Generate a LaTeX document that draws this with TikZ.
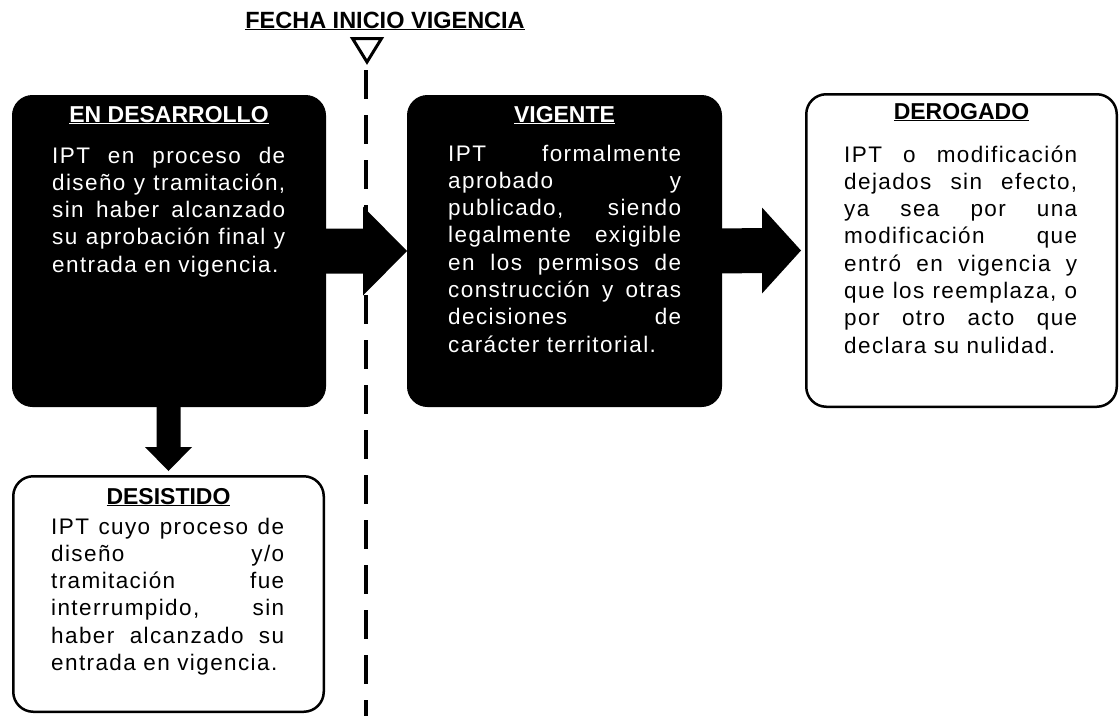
\documentclass[tikz,border=0pt]{standalone}
\usepackage{fontspec}
\setmainfont{Liberation Sans}
\usetikzlibrary{calc}
\XeTeXinterchartoks 0 0 = {\kern1.4pt}
\newcommand\jl[1]{\leavevmode\hbox to 233pt{#1}}
\newcommand\bodysize{\fontsize{22.5}{27.3}\selectfont\XeTeXinterchartokenstate=1 }
\tikzset{
  darkbox/.style={draw=black, fill=black, line width=1pt, rounded corners=20pt, inner sep=0pt},
  lightbox/.style={draw=black, fill=white, line width=2.5pt, rounded corners=20pt, inner sep=0pt},
  head/.style={anchor=base, inner sep=0pt, font=\bfseries\fontsize{23}{27}\selectfont},
  body/.style={anchor=base west, inner sep=0pt, text width=233pt, align=left, font=\bodysize},
  blockarrow/.style={fill=black},
  vline/.style={draw=black, line width=4pt, dash pattern=on 29pt off 16pt},
}
\begin{document}
\begin{tikzpicture}[x=1pt, y=-1pt]
\useasboundingbox (0,0) rectangle (1119,715);

% title and marker
\node[head, font=\bfseries\fontsize{23.5}{27}\selectfont] (title) at (385,28) {\underline{FECHA INICIO VIGENCIA}};
\draw[line width=3pt, line join=miter] (352.5,38.5) -- (381.5,38.5) -- (367,62) -- cycle;
\coordinate (dtop) at (366,70);
\coordinate (dbot) at (366,716);
\draw[vline] (dtop) -- (dbot);

% boxes
\node[darkbox, minimum width=313pt, minimum height=311pt] (desa) at (169,251) {};
\node[darkbox, minimum width=314pt, minimum height=311pt] (vig) at (564.5,251) {};
\node[lightbox, minimum width=310.5pt, minimum height=312.5pt] (dero) at (961.5,250.5) {};
\node[lightbox, minimum width=310.5pt, minimum height=235.5pt] (desi) at (168.5,594) {};

% headers
\node[head, text=white] (desah) at ($(desa.north)+(0,27)$) {\underline{EN DESARROLLO}};
\node[head, text=white] (vigh) at ($(vig.north)+(0,27)$) {\underline{VIGENTE}};
\node[head] (deroh) at ($(dero.north)+(0,26)$) {\underline{DEROGADO}};
\node[head] (desih) at ($(desi.north)+(0,29)$) {\underline{DESISTIDO}};

% bodies
\node[body, text=white] (desab) at ($(desa.north west)+(40,68)$) {%
\jl{IPT\hfill en\hfill proceso\hfill de}\\
\jl{diseño\hfill y\hfill tramitación,}\\
\jl{sin\hfill haber\hfill alcanzado}\\
\jl{su\hfill aprobación\hfill final\hfill y}\\
entrada en vigencia.};
\node[body, text=white] (vigb) at ($(vig.north west)+(41,66)$) {%
\jl{IPT\hfill formalmente}\\
\jl{aprobado\hfill y}\\
\jl{publicado,\hfill siendo}\\
\jl{legalmente\hfill exigible}\\
\jl{en\hfill los\hfill permisos\hfill de}\\
\jl{construcción\hfill y\hfill otras}\\
\jl{decisiones\hfill de}\\
carácter territorial.};
\node[body] (derob) at ($(dero.north west)+(39,69)$) {%
\jl{IPT\hfill o\hfill modificación}\\
\jl{dejados\hfill sin\hfill efecto,}\\
\jl{ya\hfill sea\hfill por\hfill una}\\
\jl{modificación\hfill que}\\
\jl{entró\hfill en\hfill vigencia\hfill y}\\
\jl{que\hfill los\hfill reemplaza,\hfill o}\\
\jl{por\hfill otro\hfill acto\hfill que}\\
declara su nulidad.};
\node[body] (desib) at ($(desi.north west)+(39,59)$) {%
\jl{IPT\hfill cuyo\hfill proceso\hfill de}\\
\jl{diseño\hfill y/o}\\
\jl{tramitación\hfill fue}\\
\jl{interrumpido,\hfill sin}\\
\jl{haber\hfill alcanzado\hfill su}\\
entrada en vigencia.};

% block arrows
\fill[blockarrow] ($(desa.east)+(-1,-22.5)$) -- ($(vig.west)+(-44,-22.5)$) -- ($(vig.west)+(-44,-44.5)$)
  -- (vig.west) -- ($(vig.west)+(-44,44.5)$) -- ($(vig.west)+(-44,22.5)$) -- ($(desa.east)+(-1,22.5)$) -- cycle;
\fill[blockarrow] ($(vig.east)+(-1,-22.5)$) -- ($(dero.west)+(-43,-22.5)$) -- ($(dero.west)+(-43,-43)$)
  -- ($(dero.west)+(-4,0)$) -- ($(dero.west)+(-43,43)$) -- ($(dero.west)+(-43,22.5)$) -- ($(vig.east)+(-1,22.5)$) -- cycle;
\fill[blockarrow] ($(desi.north)+(-12,-70)$) -- ($(desi.north)+(-12,-28)$) -- ($(desi.north)+(-23.5,-28)$)
  -- ($(desi.north)+(0,-4)$) -- ($(desi.north)+(23.5,-28)$) -- ($(desi.north)+(12,-28)$) -- ($(desi.north)+(12,-70)$) -- cycle;
\end{tikzpicture}
\end{document}
